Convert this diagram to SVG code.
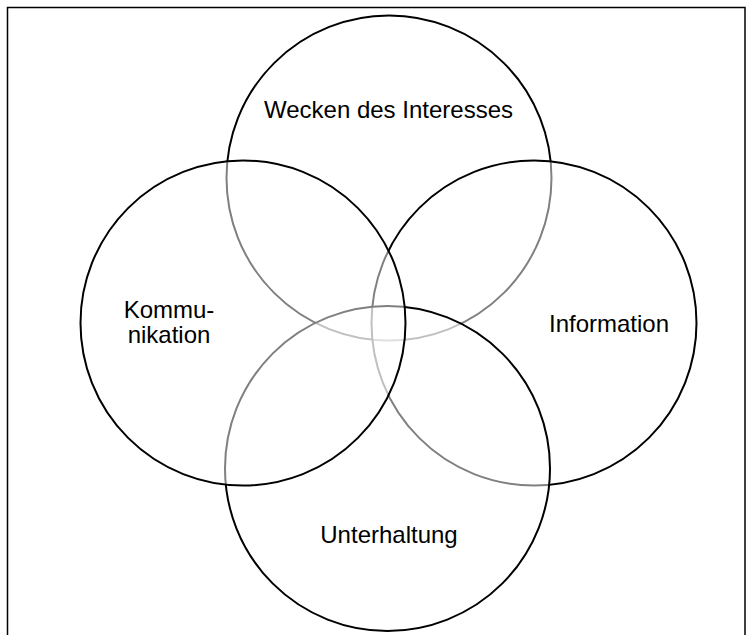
<svg xmlns="http://www.w3.org/2000/svg" width="753" height="635" viewBox="0 0 753 635">
  <style>
    .ring { fill: #ffffff; fill-opacity: 0.5; stroke: #000000; stroke-width: 2; }
    .label { font-family: "Liberation Sans", Arial, sans-serif; font-size: 24px; fill: #000000; text-anchor: middle; }
  </style>
  <rect x="0" y="0" width="753" height="635" fill="#ffffff"/>
  <!-- outer frame (open at the bottom edge) -->
  <rect x="7.5" y="7.5" width="737.5" height="650" fill="none" stroke="#000000" stroke-width="1.5"/>

  <g id="connectors"></g>

  <!-- four overlapping circles; each half-transparent fill veils the rings beneath -->
  <g id="interesse">
    <circle class="ring" cx="389" cy="178" r="162.5"/>
  </g>
  <g id="information">
    <circle class="ring" cx="534" cy="323" r="162.5"/>
  </g>
  <g id="unterhaltung">
    <circle class="ring" cx="387.5" cy="468.5" r="162.5"/>
  </g>
  <g id="kommunikation">
    <circle class="ring" cx="243" cy="323" r="162.5"/>
  </g>

  <g id="labels">
    <text class="label" x="388.5" y="118">Wecken des Interesses</text>
    <text class="label" x="609" y="332">Information</text>
    <text class="label" x="389" y="543">Unterhaltung</text>
    <text class="label" x="169" y="318">Kommu-</text>
    <text class="label" x="169" y="343">nikation</text>
  </g>
</svg>
